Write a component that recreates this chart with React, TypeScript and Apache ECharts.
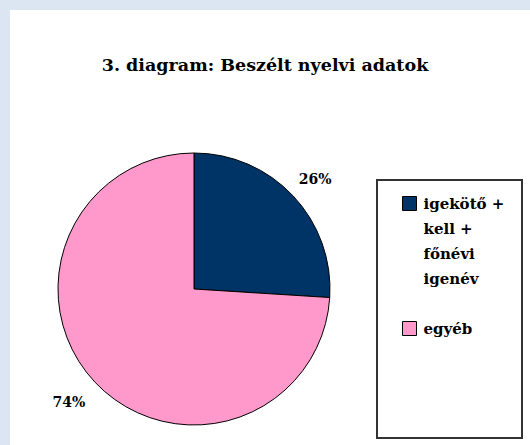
import React, { useEffect, useRef } from "react";
import * as echarts from "echarts";

const title = "3. diagram: Beszélt nyelvi adatok";
const categories = ["igekötő +\nkell +\nfőnévi\nigenév", "egyéb"];
const values = [26, 74];
const colors = ["#003366", "#ff99cc"];
const labelShift = [
  { dx: -6, dy: -6 },
  { dx: 2, dy: 9 },
];

export default function App() {
  const ref = useRef<HTMLDivElement>(null);
  useEffect(() => {
    document.body.style.margin = "0";
    const chart = echarts.init(ref.current!, null, { renderer: "svg" });
    const font = "'DejaVu Serif', 'Liberation Serif', serif";
    chart.setOption({
      animation: false,
      backgroundColor: "#dce6f2",
      title: {
        text: title,
        left: "center",
        top: 51,
        padding: [5, 5, 5, 21],
        textStyle: { fontFamily: font, fontWeight: "bold", fontSize: 17.5, color: "#000" },
      },
      graphic: [
        { type: "rect", shape: { x: 10, y: 10, width: 520, height: 435 }, style: { fill: "#fff" }, z: -10 },
        { type: "rect", shape: { x: 377, y: 180, width: 145, height: 258 }, style: { fill: "none", stroke: "#333", lineWidth: 2 }, z: 1 },
      ],
      legend: {
        orient: "vertical",
        left: 402,
        top: 116,
        padding: 0,
        itemWidth: 14,
        itemHeight: 14,
        itemGap: 25,
        icon: "rect",
        itemStyle: { borderColor: "#000", borderWidth: 1 },
        formatter: (name: string) => (name.indexOf("\n") >= 0 ? "\n\n\n" + name : name),
        textStyle: { fontFamily: font, fontWeight: "bold", fontSize: 15, lineHeight: 25, color: "#000", padding: [0, 0, 0, 2] },
        data: categories,
        selectedMode: false,
      },
      series: [
        {
          type: "pie",
          center: [194, 289],
          radius: 136,
          startAngle: 90,
          clockwise: true,
          data: categories.map((c, i) => ({ name: c, value: values[i], itemStyle: { color: colors[i] } })),
          itemStyle: { borderColor: "#000", borderWidth: 1 },
          label: {
            show: true,
            position: "outside",
            formatter: "{d}%",
            fontFamily: font,
            fontWeight: "bold",
            fontSize: 14,
            color: "#000",
            distanceToLabelLine: 0,
          },
          labelLine: { show: false, length: 16, length2: 0 },
          labelLayout: (p: any) => labelShift[p.dataIndex],
          emphasis: { disabled: true },
        },
      ],
    });
    return () => chart.dispose();
  }, []);
  return <div ref={ref} style={{ position: "absolute", left: 0, top: 0, width: 530, height: 445 }} />;
}
